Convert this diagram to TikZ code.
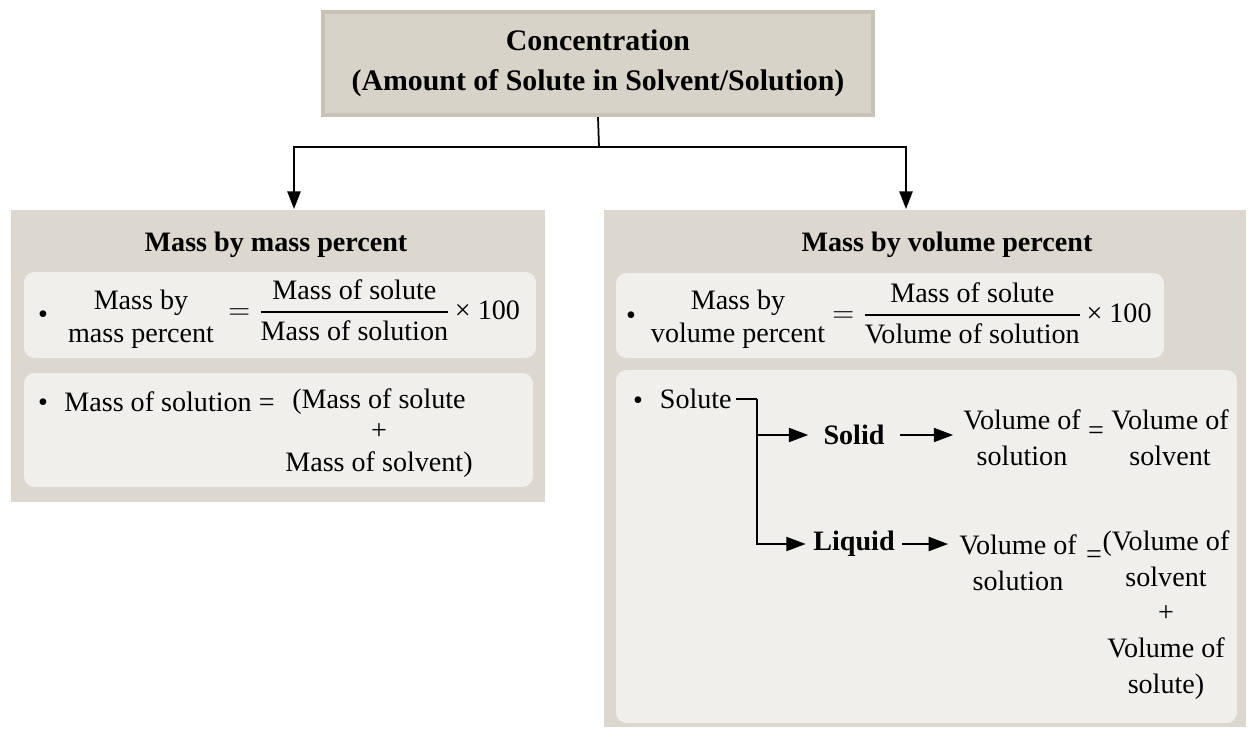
\documentclass[tikz,border=0pt]{standalone}
\usepackage{fontspec}
\usepackage{amsmath}
\setmainfont{Liberation Serif}
\usetikzlibrary{arrows.meta}

\definecolor{panelgray}{RGB}{220,216,207}
\definecolor{topgray}{RGB}{216,211,200}
\definecolor{topedge}{RGB}{200,194,182}
\definecolor{innergray}{RGB}{240,239,235}

\begin{document}
\begin{tikzpicture}[x=0.02cm, y=-0.02cm,
    topbox/.style={fill=topgray, draw=topedge, line width=2.5pt, inner sep=0pt, align=center,
      font=\fontsize{17}{22.7}\selectfont\bfseries},
    panel/.style={fill=panelgray, inner sep=0pt},
    inbox/.style={fill=innergray, rounded corners=6pt, inner sep=0pt},
    head/.style={inner sep=0pt, font=\fontsize{16}{19}\selectfont\bfseries},
    txt/.style={inner sep=0pt, align=center, font=\fontsize{16}{19}\selectfont},
    talltxt/.style={txt, font=\fontsize{16}{20.3}\selectfont},
    kind/.style={inner ysep=0pt, font=\fontsize{16}{19}\selectfont\bfseries},
    link/.style={line width=1pt},
    toparr/.style={line width=1pt, -{Triangle[length=10pt,width=7.5pt]}},
    arr/.style={line width=1pt, -{Triangle[length=11pt,width=8pt]}}]
\useasboundingbox (0,0) rectangle (1248,731);

%boxes
\node[topbox, minimum width=11cm, minimum height=2.06cm] (conc) at (598,63.5)
  {Concentration\\(Amount of Solute in Solvent/Solution)};
\node[panel, minimum width=10.68cm, minimum height=5.84cm] (mmpanel) at (278,356) {};
\node[panel, minimum width=12.84cm, minimum height=10.34cm] (mvpanel) at (925,468.5) {};
\node[inbox, minimum width=10.24cm, minimum height=1.72cm] (mmbox1) at (280,315) {};
\node[inbox, minimum width=10.18cm, minimum height=2.28cm] (mmbox2) at (278.5,430) {};
\node[inbox, minimum width=10.96cm, minimum height=1.7cm] (mvbox1) at (890,315.5) {};
\node[inbox, minimum width=12.42cm, minimum height=7.06cm] (mvbox2) at (926.5,546.5) {};

%mass by mass percent
\node[head] (mmhead) at (276,245) {Mass by mass percent};
\node[txt] (mmdot1) at (43,317) {\textbullet};
\node[txt] (mmname) at (141,319) {Mass by\\mass percent};
\node[txt, anchor=west] (mmfrac) at (228,310)
  {$\displaystyle=\frac{\text{Mass of solute}}{\text{Mass of solution}}$\,× 100};
\node[txt] (mmdot2) at (43,405) {\textbullet};
\node[txt, anchor=west] (mmsoln) at (64,402) {Mass of solution =};
\node[txt, font=\fontsize{16}{18}\selectfont] (mmsum) at (379,433)
  {(Mass of solute\\+\\Mass of solvent)};

%mass by volume percent
\node[head] (mvhead) at (947,245) {Mass by volume percent};
\node[txt] (mvdot1) at (631,318) {\textbullet};
\node[txt] (mvname) at (738,319) {Mass by\\volume percent};
\node[txt, anchor=west] (mvfrac) at (832,313)
  {$\displaystyle=\frac{\text{Mass of solute}}{\text{Volume of solution}}$\,× 100};
\node[txt] (mvdot2) at (638,403) {\textbullet};
\node[txt, anchor=west, inner xsep=2pt] (solute) at (656,399) {Solute};
\coordinate (fork) at (757,399);
\node[kind, inner xsep=8.5pt] (solid) at (854,435) {Solid};
\node[kind, inner xsep=4.2pt] (liquid) at (854,544) {Liquid};
\node[talltxt, inner xsep=5.6pt] (solidres) at (1022,438) {Volume of\\solution};
\node[txt] (eqsolid) at (1096,433) {=};
\node[talltxt] (solvent) at (1170,438) {Volume of\\solvent};
\node[talltxt, inner xsep=6.2pt] (liquidres) at (1018,563) {Volume of\\solution};
\node[txt] (eqliquid) at (1094,557) {=};
\node[talltxt] (liqsum) at (1166,615) {(Volume of\\solvent\\+\\Volume of\\solute)};

%edges
\coordinate (split) at (599,147);
\coordinate (tipL) at (294,209);
\coordinate (tipR) at (906,209);
\draw[link] (conc.south) -- (split);
\draw[toparr] (split) -| (tipL);
\draw[toparr] (split) -| (tipR);
\draw[link] (solute.east) -- (fork);
\draw[arr] (fork) |- (solid.west);
\draw[arr] (fork) |- (liquid.west);
\draw[arr] (solid.east) -- (solidres.west |- solid.east);
\draw[arr] (liquid.east) -- (liquidres.west |- liquid.east);
\end{tikzpicture}
\end{document}
